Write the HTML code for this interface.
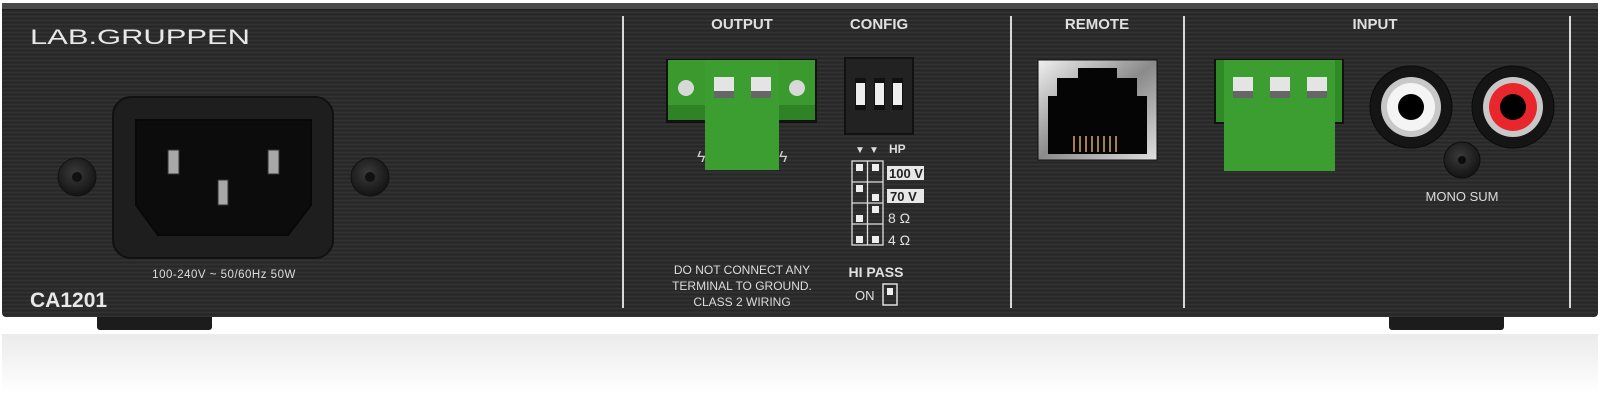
<!DOCTYPE html>
<html><head><meta charset="utf-8"><style>
html,body{margin:0;padding:0;background:#fff;width:1600px;height:418px;overflow:hidden}
svg{display:block}
text{font-family:"Liberation Sans",sans-serif}
</style></head><body>
<svg width="1600" height="418" viewBox="0 0 1600 418" xmlns="http://www.w3.org/2000/svg">
<defs>
<pattern id="brush" width="1600" height="4" patternUnits="userSpaceOnUse">
<rect width="1600" height="4" fill="#2c2c2d"/>
<rect y="0" width="1600" height="1" fill="#323233"/>
<rect y="2" width="1600" height="1" fill="#272728"/>
</pattern>
<linearGradient id="refl" x1="0" y1="0" x2="0" y2="1">
<stop offset="0" stop-color="#ebebeb"/><stop offset="1" stop-color="#ffffff"/>
</linearGradient>
<radialGradient id="screw" cx="0.45" cy="0.4" r="0.6"><stop offset="0" stop-color="#3a3a3a"/><stop offset="1" stop-color="#141414"/></radialGradient>
<linearGradient id="metal" x1="0" y1="0" x2="1" y2="1"><stop offset="0" stop-color="#f0f0f0"/><stop offset="0.5" stop-color="#8a8a8a"/><stop offset="1" stop-color="#e0e0e0"/></linearGradient>
</defs>
<rect x="2" y="334" width="1596" height="60" fill="url(#refl)"/>
<rect x="97" y="312" width="115" height="18" rx="3" fill="#1c1c1c"/>
<rect x="1389" y="312" width="115" height="18" rx="3" fill="#1c1c1c"/>
<rect x="2" y="3" width="1596" height="314" rx="4" fill="url(#brush)"/>
<rect x="2" y="3" width="1596" height="6" fill="#4a4a4b"/>
<rect x="2" y="9" width="1596" height="1" fill="#1e1e1e"/>
<g stroke="#d8d8d8" stroke-width="2">
<line x1="623" y1="16" x2="623" y2="308"/>
<line x1="1011" y1="16" x2="1011" y2="308"/>
<line x1="1184" y1="16" x2="1184" y2="308"/>
<line x1="1570" y1="16" x2="1570" y2="308"/>
</g>
<text x="30" y="44" font-size="21" fill="#e8e8e8" textLength="220" lengthAdjust="spacingAndGlyphs">LAB.GRUPPEN</text>
<rect x="113" y="97" width="220" height="161" rx="18" fill="#1e1e1e" stroke="#111" stroke-width="2"/>
<path d="M136 120 H311 V205 L288 235 H158 L136 205 Z" fill="#0c0c0c" stroke="#080808" stroke-width="2"/>
<rect x="168" y="150" width="11" height="24" fill="#a8a8a8" stroke="#333"/>
<rect x="268" y="150" width="11" height="24" fill="#a8a8a8" stroke="#333"/>
<rect x="218" y="180" width="10" height="25" fill="#a8a8a8" stroke="#333"/>
<circle cx="77" cy="177" r="19" fill="url(#screw)" stroke="#111"/><circle cx="77" cy="177" r="5" fill="#111"/>
<circle cx="370" cy="177" r="19" fill="url(#screw)" stroke="#111"/><circle cx="370" cy="177" r="5" fill="#111"/>
<text x="224" y="278" font-size="11.5" fill="#dcdcdc" text-anchor="middle" letter-spacing="0.5">100-240V ~ 50/60Hz 50W</text>
<text x="30" y="307" font-size="21" font-weight="bold" fill="#e8e8e8">CA1201</text>
<text x="742" y="29" font-size="15" font-weight="bold" fill="#e0e0e0" text-anchor="middle">OUTPUT</text>
<rect x="666" y="59" width="151" height="64" fill="#111"/>
<rect x="668" y="60" width="147" height="60" fill="#3a9a2e"/>
<rect x="668" y="105" width="147" height="15" fill="#2f8226"/>
<circle cx="686" cy="88" r="8" fill="#d8d8d8"/><circle cx="797" cy="88" r="8" fill="#d8d8d8"/>
<rect x="705" y="60" width="74" height="110" fill="#3c9e30"/>
<rect x="714" y="77" width="20" height="21" fill="#e4e4e4"/><rect x="714" y="91" width="20" height="7" fill="#666"/>
<rect x="751" y="77" width="20" height="21" fill="#e4e4e4"/><rect x="751" y="91" width="20" height="7" fill="#666"/>
<text x="697" y="162" font-size="16" fill="#ccc">ϟ</text><text x="779" y="162" font-size="16" fill="#ccc">ϟ</text>
<text x="742" y="274" font-size="12" fill="#dcdcdc" text-anchor="middle">DO NOT CONNECT ANY</text>
<text x="742" y="290" font-size="12" fill="#dcdcdc" text-anchor="middle">TERMINAL TO GROUND.</text>
<text x="742" y="306" font-size="12" fill="#dcdcdc" text-anchor="middle">CLASS 2 WIRING</text>
<text x="879" y="29" font-size="15" font-weight="bold" fill="#e0e0e0" text-anchor="middle">CONFIG</text>
<rect x="845" y="58" width="68" height="76" fill="#222" stroke="#111" stroke-width="2"/>
<rect x="855" y="78" width="11" height="32" fill="#111"/><rect x="856" y="83" width="9" height="22" fill="#eee"/>
<rect x="874" y="78" width="11" height="32" fill="#111"/><rect x="875" y="83" width="9" height="22" fill="#eee"/>
<rect x="892" y="78" width="11" height="32" fill="#111"/><rect x="893" y="83" width="9" height="22" fill="#eee"/>
<text x="855" y="153" font-size="10" fill="#ddd">▼</text><text x="869" y="153" font-size="10" fill="#ddd">▼</text>
<text x="889" y="153" font-size="12" font-weight="bold" fill="#ddd">HP</text>
<g stroke="#ddd" stroke-width="1.3" fill="none">
<rect x="852" y="161" width="31" height="84"/>
<line x1="867.5" y1="161" x2="867.5" y2="245"/>
<line x1="852" y1="182" x2="883" y2="182"/><line x1="852" y1="203" x2="883" y2="203"/><line x1="852" y1="224" x2="883" y2="224"/>
</g>
<g fill="#eee">
<rect x="856" y="164" width="7" height="7"/><rect x="872" y="164" width="7" height="7"/>
<rect x="856" y="185" width="7" height="7"/><rect x="872" y="194" width="7" height="7"/>
<rect x="856" y="215" width="7" height="7"/><rect x="872" y="206" width="7" height="7"/>
<rect x="856" y="236" width="7" height="7"/><rect x="872" y="236" width="7" height="7"/>
</g>
<rect x="887" y="166" width="37" height="14" fill="#e8e8e8"/><text x="889" y="178" font-size="13" font-weight="bold" fill="#222">100 V</text>
<rect x="887" y="189" width="37" height="14" fill="#e8e8e8"/><text x="890" y="201" font-size="13" font-weight="bold" fill="#222">70 V</text>
<text x="888" y="223" font-size="14" fill="#e0e0e0">8 Ω</text>
<text x="888" y="245" font-size="14" fill="#e0e0e0">4 Ω</text>
<text x="876" y="277" font-size="14" font-weight="bold" fill="#e0e0e0" text-anchor="middle">HI PASS</text>
<text x="855" y="300" font-size="13" fill="#e0e0e0">ON</text>
<rect x="883" y="284" width="14" height="21" fill="none" stroke="#ddd" stroke-width="1.5"/><rect x="887" y="288" width="6" height="7" fill="#eee"/>
<text x="1097" y="29" font-size="15" font-weight="bold" fill="#e0e0e0" text-anchor="middle">REMOTE</text>
<rect x="1038" y="60" width="119" height="100" fill="url(#metal)" stroke="#111"/>
<path d="M1048 96 H1057 V78 H1078 V68 H1117 V78 H1137 V96 H1147 V154 H1048 Z" fill="#050505"/>
<g stroke="#c9a24a" stroke-width="1.6">
<line x1="1074" y1="136" x2="1074" y2="152"/><line x1="1080" y1="136" x2="1080" y2="152"/><line x1="1086" y1="136" x2="1086" y2="152"/><line x1="1092" y1="136" x2="1092" y2="152"/>
<line x1="1098" y1="136" x2="1098" y2="152"/><line x1="1104" y1="136" x2="1104" y2="152"/><line x1="1110" y1="136" x2="1110" y2="152"/><line x1="1116" y1="136" x2="1116" y2="152"/>
</g>
<text x="1375" y="29" font-size="15" font-weight="bold" fill="#e0e0e0" text-anchor="middle">INPUT</text>
<rect x="1214" y="59" width="130" height="65" fill="#111"/>
<rect x="1216" y="60" width="126" height="62" fill="#2f8a26"/>
<rect x="1224" y="60" width="111" height="111" fill="#3c9e30"/>
<rect x="1233" y="77" width="20" height="21" fill="#e4e4e4"/><rect x="1233" y="91" width="20" height="7" fill="#666"/>
<rect x="1270" y="77" width="20" height="21" fill="#e4e4e4"/><rect x="1270" y="91" width="20" height="7" fill="#666"/>
<rect x="1307" y="77" width="20" height="21" fill="#e4e4e4"/><rect x="1307" y="91" width="20" height="7" fill="#666"/>
<circle cx="1411" cy="107" r="41" fill="#151515" stroke="#0a0a0a"/>
<circle cx="1411" cy="107" r="30" fill="#c8c8c8"/><circle cx="1411" cy="107" r="24" fill="#f4f4f4"/><circle cx="1411" cy="107" r="13" fill="#000"/>
<circle cx="1513" cy="107" r="41" fill="#151515" stroke="#0a0a0a"/>
<circle cx="1513" cy="107" r="30" fill="#c8c8c8"/><circle cx="1513" cy="107" r="24" fill="#e8262c"/><circle cx="1513" cy="107" r="13" fill="#000"/>
<circle cx="1462" cy="160" r="18" fill="url(#screw)" stroke="#0e0e0e"/><circle cx="1462" cy="160" r="4" fill="#0c0c0c"/>
<text x="1462" y="201" font-size="13" fill="#dcdcdc" text-anchor="middle">MONO SUM</text>
</svg>
</body></html>
